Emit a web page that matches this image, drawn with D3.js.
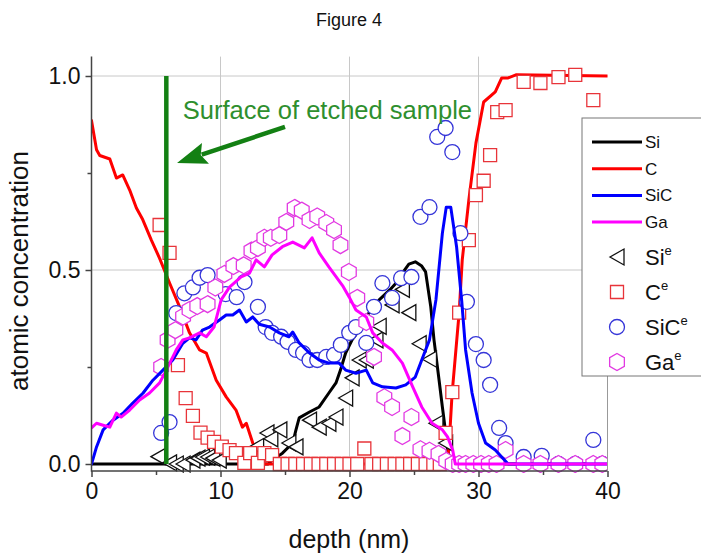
<!DOCTYPE html>
<html><head><meta charset="utf-8">
<script src="https://cdn.jsdelivr.net/npm/d3@7"></script>
<style>
body{margin:0;background:#fff;}
svg{display:block;font-family:"Liberation Sans",Arial,Helvetica,sans-serif;}
</style>
</head><body>
<svg id="chart" width="701" height="557"></svg>
<script>
// ---------------- DATA ----------------
const depthTicks = [0, 10, 20, 30, 40];
const depthMinorTicks = [5, 15, 25, 35];
const concTicks = [0, 0.5, 1.0];
const concMinorTicks = [0.25, 0.75];
const surfaceDepth = 5.8;

// simulated profiles (lines)
const siLineX = [0, 13.7, 14.0, 14.8, 15.6, 15.85, 16.1, 16.9, 17.65, 18.4, 18.95, 19.3, 19.7, 20.2, 20.75, 21.5, 22.3, 23.1, 23.6, 24.1, 24.6, 25.1, 25.6, 25.9, 26.3, 26.55, 26.94, 27.2, 27.4, 27.6, 27.8, 40];
const siLineY = [0, 0, 0.01, 0.028, 0.054, 0.088, 0.119, 0.134, 0.147, 0.183, 0.209, 0.242, 0.286, 0.32, 0.345, 0.389, 0.423, 0.448, 0.466, 0.492, 0.515, 0.521, 0.51, 0.495, 0.405, 0.32, 0.217, 0.147, 0.095, 0.04, 0, 0];

const cLineX = [0, 0.39, 0.64, 1.42, 1.93, 2.42, 2.96, 3.48, 3.97, 4.64, 5.28, 6.06, 6.83, 7.6, 8.38, 8.9, 9.67, 10.44, 11.2, 11.7, 12.0, 12.5, 12.9, 13.3, 27.4, 27.7, 27.95, 28.5, 28.74, 29.25, 29.8, 30.4, 31.3, 31.8, 32.3, 32.9, 40];
const cLineY = [0.885, 0.81, 0.795, 0.786, 0.737, 0.745, 0.706, 0.66, 0.63, 0.577, 0.53, 0.466, 0.405, 0.338, 0.294, 0.286, 0.216, 0.173, 0.139, 0.095, 0.105, 0.054, 0.03, 0, 0, 0.036, 0.18, 0.39, 0.526, 0.68, 0.827, 0.933, 0.959, 0.995, 0.995, 1.003, 1.0];

const sicLineX = [0, 0.39, 0.9, 1.67, 2.44, 3.2, 4.0, 4.76, 5.54, 6.3, 7.08, 7.6, 8.1, 8.6, 9.15, 9.92, 10.44, 10.95, 11.47, 12.0, 12.5, 13.0, 13.8, 14.56, 15.3, 15.6, 16.1, 16.9, 17.65, 18.4, 19.2, 19.7, 20.5, 21.3, 21.8, 22.55, 23.6, 24.36, 25.1, 25.6, 26.2, 26.7, 27.2, 27.5, 27.85, 28.3, 28.7, 29.0, 29.5, 30.0, 30.55, 31.3, 31.8, 32.3, 40];
const sicLineY = [0, 0.044, 0.088, 0.113, 0.131, 0.157, 0.183, 0.216, 0.242, 0.268, 0.311, 0.325, 0.32, 0.345, 0.353, 0.371, 0.384, 0.384, 0.397, 0.366, 0.379, 0.36, 0.353, 0.338, 0.328, 0.34, 0.312, 0.286, 0.268, 0.26, 0.26, 0.242, 0.234, 0.242, 0.209, 0.199, 0.196, 0.204, 0.224, 0.268, 0.32, 0.423, 0.595, 0.662, 0.662, 0.56, 0.42, 0.294, 0.183, 0.105, 0.054, 0.036, 0.018, 0, 0];

const gaLineX = [0, 0.39, 0.9, 1.42, 1.93, 2.3, 2.96, 3.73, 4.5, 5.28, 5.8, 6.57, 7.08, 7.6, 8.38, 8.9, 9.5, 10.05, 10.7, 11.6, 12.25, 12.76, 13.4, 14.0, 14.8, 15.6, 16.5, 17.1, 17.65, 18.4, 19.46, 19.98, 20.5, 21.3, 21.8, 22.55, 23.3, 24.1, 24.9, 25.6, 26.4, 27.2, 27.6, 28.0, 28.2, 40];
const gaLineY = [0.093, 0.105, 0.1, 0.095, 0.131, 0.121, 0.139, 0.165, 0.183, 0.209, 0.242, 0.294, 0.32, 0.325, 0.338, 0.328, 0.353, 0.423, 0.456, 0.482, 0.492, 0.526, 0.508, 0.539, 0.56, 0.572, 0.557, 0.583, 0.544, 0.508, 0.46, 0.43, 0.397, 0.379, 0.338, 0.312, 0.294, 0.26, 0.199, 0.147, 0.105, 0.088, 0.07, 0.036, 0, 0];

// experimental points (markers)
const siExpX = [5.15, 6.05, 6.57, 7.1, 7.86, 8.25, 8.6, 9.0, 9.4, 9.9, 12.8, 13.6, 13.9, 14.6, 15.3, 15.85, 16.9, 17.65, 18.4, 18.95, 19.7, 20.2, 20.75, 21.3, 22.05, 22.3, 23.3, 24.1, 24.6, 25.4, 26.2, 26.7, 27.45];
const siExpY = [0.019, 0.003, 0, 0, 0.01, 0.015, 0.018, 0.018, 0.015, 0.01, 0.045, 0.08, 0.065, 0.088, 0.054, 0.044, 0.113, 0.095, 0.105, 0.121, 0.17, 0.222, 0.268, 0.268, 0.32, 0.355, 0.41, 0.45, 0.39, 0.31, 0.27, 0.105, 0.054];

const cExpX = [5.28, 6.05, 6.7, 7.3, 7.86, 8.45, 9.0, 9.5, 10.1, 10.7, 11.2, 11.85, 12.3, 12.9, 13.4, 14.0, 14.6, 15.2, 15.8, 16.4, 17.0, 17.6, 18.2, 18.8, 19.4, 20.0, 20.6, 21.15, 21.7, 22.3, 22.9, 23.5, 24.1, 24.7, 25.3, 25.9, 26.5, 27.0, 27.45, 27.97, 28.5, 29.25, 29.8, 30.4, 30.9, 31.45, 32.1, 33.5, 34.8, 36.2, 37.5, 38.9];
const cExpY = [0.616, 0.544, 0.255, 0.17, 0.124, 0.081, 0.068, 0.057, 0.045, 0.036, 0.028, 0.003, 0.028, 0.003, 0.028, 0.023, 0, 0, 0, 0, 0, 0, 0, 0, 0, 0, 0, 0.04, 0, 0, 0, 0, 0, 0, 0, 0, 0, 0, 0.08, 0.185, 0.39, 0.577, 0.693, 0.73, 0.796, 0.907, 0.912, 0.985, 0.982, 0.997, 1.003, 0.938];

const sicExpX = [5.4, 6.05, 6.57, 7.2, 7.86, 8.38, 9.0, 10.4, 11.25, 11.86, 12.9, 13.5, 14.0, 14.7, 15.2, 15.85, 16.4, 16.9, 17.5, 18.2, 18.8, 19.33, 19.98, 20.5, 21.3, 21.9, 22.55, 23.3, 24.0, 24.8, 25.5, 26.2, 26.8, 27.45, 27.97, 28.6, 29.1, 29.8, 30.4, 30.9, 31.6, 32.1, 33.5, 34.9, 36.2, 37.5, 38.9, 39.6];
const sicExpY = [0.08, 0.108, 0.389, 0.44, 0.455, 0.48, 0.487, 0.438, 0.43, 0.469, 0.405, 0.353, 0.338, 0.328, 0.315, 0.294, 0.286, 0.268, 0.268, 0.276, 0.281, 0.307, 0.338, 0.353, 0.312, 0.405, 0.466, 0.428, 0.479, 0.482, 0.637, 0.662, 0.843, 0.866, 0.804, 0.595, 0.418, 0.309, 0.268, 0.204, 0.093, 0.054, 0.018, 0.021, 0, 0, 0.062, 0];

const gaExpX = [5.4, 5.9, 6.5, 7.1, 7.6, 8.2, 9.0, 9.6, 10.3, 11.0, 11.8, 12.4, 12.9, 13.4, 13.9, 14.56, 15.1, 15.75, 16.3, 16.9, 17.5, 18.2, 18.8, 19.3, 19.95, 20.6, 21.3, 21.9, 22.7, 23.3, 24.1, 24.8, 25.5, 26.2, 26.9, 27.5, 28.0, 28.5, 29.0, 29.6, 30.2, 30.8, 31.4, 32.1, 33.5, 34.8, 36.2, 37.5, 38.9, 39.6];
const gaExpY = [0.25, 0.32, 0.345, 0.38, 0.397, 0.407, 0.412, 0.455, 0.49, 0.51, 0.512, 0.55, 0.557, 0.583, 0.583, 0.59, 0.624, 0.66, 0.653, 0.629, 0.638, 0.621, 0.603, 0.564, 0.495, 0.428, 0.366, 0.276, 0.172, 0.147, 0.072, 0.121, 0.038, 0.034, 0.026, 0.008, 0, 0, 0, 0, 0, 0, 0, 0.036, 0, 0, 0, 0, 0, 0];

const legendLines = ["Si", "C", "SiC", "Ga"];
const legendMarkers = ["Si", "C", "SiC", "Ga"];

// ---------------- DRAW ----------------
const svg = d3.select("#chart");
const x = d3.scaleLinear().domain([0, 40]).range([91.5, 607.5]);
const y = d3.scaleLinear().domain([0, 1]).range([464, 76]);
const yBottom = y(-0.018), yTop = y(1.05);
const zip = (a, b) => a.map((v, i) => [v, b[i]]);

const colors = {
  si: "#000000", c: "#ff0000", sic: "#0000ff", ga: "#ff00ff",
  siM: "#111111", cM: "#e8343a", sicM: "#3535d8", gaM: "#e23ae2",
  green: "#138013", greenText: "#2e8f2e", grid: "#c8c8c8", axis: "#444"
};

// title
svg.append("text").attr("x", 349).attr("y", 26).attr("text-anchor", "middle")
  .attr("font-size", 18).attr("fill", "#111").text("Figure 4");

// grid
svg.append("g").selectAll("line").data(depthTicks.slice(1, 4)).join("line")
  .attr("x1", d => x(d)).attr("x2", d => x(d)).attr("y1", yBottom).attr("y2", yTop)
  .attr("stroke", colors.grid).attr("stroke-width", 1);
svg.append("g").selectAll("line").data(concTicks.slice(1)).join("line")
  .attr("x1", x(0)).attr("x2", x(40)).attr("y1", d => y(d)).attr("y2", d => y(d))
  .attr("stroke", colors.grid).attr("stroke-width", 1);

// clip
svg.append("defs").append("clipPath").attr("id", "plotclip").append("rect")
  .attr("x", x(0)).attr("y", yTop).attr("width", x(40) - x(0)).attr("height", yBottom - yTop + 2);
const plot = svg.append("g").attr("clip-path", "url(#plotclip)");

const line = d3.line().x(d => x(d[0])).y(d => y(d[1]));
function drawLine(xs, ys, col) {
  plot.append("path").datum(zip(xs, ys)).attr("d", line)
    .attr("fill", "none").attr("stroke", col).attr("stroke-width", 3)
    .attr("stroke-linejoin", "round").attr("stroke-linecap", "round");
}

// marker shapes
const triPath = "M-7,0L7,-8L7,8Z";
const sqPath = "M-6.5,-6.5H6.5V6.5H-6.5Z";
const hexPath = (() => {
  const r = 8.5; let p = "";
  for (let i = 0; i < 6; i++) {
    const a = (-90 + 60 * i) * Math.PI / 180;
    p += (i ? "L" : "M") + (r * Math.cos(a)).toFixed(2) + "," + (r * Math.sin(a)).toFixed(2);
  }
  return p + "Z";
})();
const circPath = d3.symbol().type(d3.symbolCircle).size(Math.PI * 7.5 * 7.5)();

function drawMarkers(xs, ys, path, col) {
  plot.append("g").selectAll("path").data(zip(xs, ys)).join("path")
    .attr("d", path).attr("transform", d => `translate(${x(d[0])},${y(d[1])})`)
    .attr("fill", "#fff").attr("stroke", col).attr("stroke-width", 1.3);
}

drawLine(siLineX, siLineY, colors.si);
drawLine(cLineX, cLineY, colors.c);
drawMarkers(siExpX, siExpY, triPath, colors.siM);
drawMarkers(cExpX, cExpY, sqPath, colors.cM);
drawMarkers(sicExpX, sicExpY, circPath, colors.sicM);
drawMarkers(gaExpX, gaExpY, hexPath, colors.gaM);
drawLine(sicLineX, sicLineY, colors.sic);
drawLine(gaLineX, gaLineY, colors.ga);

// surface line
svg.append("line").attr("x1", x(surfaceDepth)).attr("x2", x(surfaceDepth))
  .attr("y1", y(0)).attr("y2", y(1)).attr("stroke", colors.green).attr("stroke-width", 4.5);

// annotation arrow
(() => {
  const tx = x(15.0), ty = y(0.869), hx = x(6.63), hy = y(0.776);
  const dx = hx - tx, dy = hy - ty, L = Math.hypot(dx, dy);
  const ux = dx / L, uy = dy / L, px = -uy, py = ux;
  const hl = 30, hw = 11;
  const bx = hx - ux * hl, by = hy - uy * hl;
  svg.append("line").attr("x1", tx).attr("y1", ty).attr("x2", bx + ux * 4).attr("y2", by + uy * 4)
    .attr("stroke", colors.green).attr("stroke-width", 4.5);
  svg.append("path").attr("d",
    `M${hx},${hy}L${bx + px * hw},${by + py * hw}L${bx + ux * 5},${by + uy * 5}L${bx - px * hw},${by - py * hw}Z`)
    .attr("fill", colors.green);
})();
svg.append("text").attr("x", x(7.08)).attr("y", y(0.889)).attr("font-size", 25.5)
  .attr("fill", colors.greenText).text("Surface of etched sample");

// axes
const axisG = svg.append("g");
axisG.append("line").attr("x1", x(0)).attr("x2", x(40)).attr("y1", yBottom).attr("y2", yBottom)
  .attr("stroke", colors.axis).attr("stroke-width", 1.5);
axisG.append("line").attr("x1", x(0)).attr("x2", x(0)).attr("y1", yBottom + 0.75).attr("y2", yTop)
  .attr("stroke", colors.axis).attr("stroke-width", 1.5);
axisG.append("line").attr("x1", x(40)).attr("x2", x(40)).attr("y1", yBottom).attr("y2", 120)
  .attr("stroke", "#999").attr("stroke-width", 1);

function styleAxis(g) {
  g.select(".domain").remove();
  g.selectAll(".tick line").attr("stroke", colors.axis).attr("stroke-width", 1.5);
  g.selectAll(".tick text").attr("fill", "#111").attr("font-size", 23)
    .attr("font-family", '"Liberation Sans",Arial,sans-serif');
}
svg.append("g").attr("transform", `translate(0,${yBottom})`)
  .call(d3.axisBottom(x).tickValues(depthTicks).tickSize(6).tickPadding(6).tickFormat(d3.format("d")))
  .call(styleAxis);
svg.append("g").attr("transform", `translate(0,${yBottom})`)
  .call(d3.axisBottom(x).tickValues(depthMinorTicks).tickSize(4).tickFormat(""))
  .call(styleAxis);
svg.append("g").attr("transform", `translate(${x(0)},0)`)
  .call(d3.axisLeft(y).tickValues(concTicks).tickSize(6).tickPadding(5).tickFormat(d3.format(".1f")))
  .call(styleAxis);
svg.append("g").attr("transform", `translate(${x(0)},0)`)
  .call(d3.axisLeft(y).tickValues(concMinorTicks).tickSize(4).tickFormat(""))
  .call(styleAxis);

// axis titles
svg.append("text").attr("x", 349).attr("y", 548).attr("text-anchor", "middle")
  .attr("font-size", 25).attr("fill", "#111").text("depth (nm)");
svg.append("text").attr("transform", "translate(28,271) rotate(-90)").attr("text-anchor", "middle")
  .attr("font-size", 26).attr("fill", "#111").text("atomic concentration");

// legend
const lg = svg.append("g");
lg.append("rect").attr("x", 582).attr("y", 118).attr("width", 140).attr("height", 258)
  .attr("fill", "#fff").attr("stroke", "#777").attr("stroke-width", 1);
const lineCols = [colors.si, colors.c, colors.sic, colors.ga];
legendLines.forEach((name, i) => {
  const yy = 142 + i * 26.7;
  lg.append("line").attr("x1", 592).attr("x2", 642).attr("y1", yy).attr("y2", yy)
    .attr("stroke", lineCols[i]).attr("stroke-width", 3);
  lg.append("text").attr("x", 645).attr("y", yy + 6).attr("font-size", 17).attr("fill", "#111").text(name);
});
const mPaths = [triPath, sqPath, circPath, hexPath];
const mCols = [colors.siM, colors.cM, colors.sicM, colors.gaM];
legendMarkers.forEach((name, i) => {
  const yy = 257 + i * 35;
  lg.append("path").attr("d", mPaths[i]).attr("transform", `translate(617,${yy})`)
    .attr("fill", "#fff").attr("stroke", mCols[i]).attr("stroke-width", 1.3);
  const t = lg.append("text").attr("x", 645).attr("y", yy + 8).attr("font-size", 22).attr("fill", "#111");
  t.append("tspan").text(name);
  t.append("tspan").attr("font-size", 13).attr("dy", -10).text("e");
});
</script>
</body></html>
